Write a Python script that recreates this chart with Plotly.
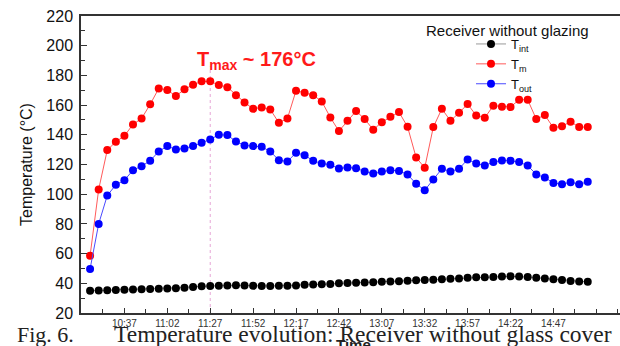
import plotly.graph_objects as go

times = ["10:17", "10:22", "10:27", "10:32", "10:37", "10:42", "10:47", "10:52", "10:57", "11:02",
         "11:07", "11:12", "11:17", "11:22", "11:27", "11:32", "11:37", "11:42", "11:47", "11:52",
         "11:57", "12:02", "12:07", "12:12", "12:17", "12:22", "12:27", "12:32", "12:37", "12:42",
         "12:47", "12:52", "12:57", "13:02", "13:07", "13:12", "13:17", "13:22", "13:27", "13:32",
         "13:37", "13:42", "13:47", "13:52", "13:57", "14:02", "14:07", "14:12", "14:17", "14:22",
         "14:27", "14:32", "14:37", "14:42", "14:47", "14:52", "14:57", "15:02", "15:07"]

t_int = [35.0, 35.2, 35.4, 35.5, 35.6, 35.8, 36.0, 36.2, 36.3, 36.5,
         36.7, 37.0, 37.5, 38.0, 38.2, 38.3, 38.5, 38.7, 38.5, 38.3,
         38.2, 38.2, 38.3, 38.4, 38.6, 39.0, 39.2, 39.4, 39.6, 40.0,
         40.2, 40.3, 40.5, 40.7, 41.0, 41.2, 41.4, 41.7, 42.0, 42.2,
         42.4, 42.7, 43.0, 43.3, 43.7, 44.0, 44.0, 44.2, 44.5, 44.7,
         44.5, 44.3, 43.8, 43.3, 42.8, 42.2, 41.6, 41.2, 41.0]

t_m = [58.6, 103.2, 129.7, 135.3, 139.3, 147.0, 151.0, 160.5, 171.2, 170.1,
       166.1, 170.6, 173.7, 176.0, 176.0, 173.5, 172.1, 166.7, 161.8, 157.5,
       158.4, 157.1, 148.1, 151.0, 169.7, 168.3, 166.7, 162.5, 151.7, 142.5,
       149.4, 156.0, 150.6, 143.4, 148.5, 152.1, 155.3, 145.4, 124.7, 117.8,
       145.2, 157.5, 149.4, 154.8, 160.7, 153.0, 151.5, 159.6, 158.9, 158.7,
       163.6, 163.6, 150.6, 153.3, 144.7, 145.8, 148.8, 145.2, 145.2]

t_out = [49.7, 80.0, 99.1, 106.3, 109.4, 116.2, 118.9, 122.5, 128.8, 132.4,
         130.1, 130.8, 132.4, 134.6, 136.9, 140.0, 139.8, 135.5, 132.8, 132.4,
         131.9, 128.8, 122.9, 122.0, 127.9, 126.3, 122.5, 120.7, 119.8, 117.3,
         118.0, 117.5, 115.3, 113.9, 115.3, 116.2, 115.7, 113.3, 107.0, 102.7,
         109.9, 117.1, 115.3, 117.1, 123.4, 120.7, 119.3, 121.6, 122.7, 122.5,
         121.6, 119.3, 113.3, 111.2, 107.6, 106.7, 108.1, 106.7, 108.3]

tick_labels = ["10:37", "11:02", "11:27", "11:52", "12:17", "12:42", "13:07",
               "13:32", "13:57", "14:22", "14:47"]

t_max_time = "11:27"
t_max_value = 176


def to_min(s):
    h, m = s.split(":")
    return int(h) * 60 + int(m)


x = [to_min(t) for t in times]

W, H = 620, 346
L, R, T, B = 81, 0, 16, 33
PW, PH = W - L - R, H - T - B


def px(xp):
    return (xp - L) / PW


def py(yp):
    return (H - B - yp) / PH


fig = go.Figure()
series = [("T<sub>int</sub>", t_int, "#000000", "#9a9a9a"),
          ("T<sub>m</sub>", t_m, "#ff0000", "#ff5a5a"),
          ("T<sub>out</sub>", t_out, "#0000ff", "#4a4aff")]
for name, vals, mc, lc in series:
    fig.add_trace(go.Scatter(
        x=x, y=vals, name=name, mode="lines+markers",
        line=dict(color=lc, width=1),
        marker=dict(color=mc, size=8, line=dict(width=0)),
    ))

fig.add_shape(type="line", xref="x", yref="y",
              x0=to_min(t_max_time), x1=to_min(t_max_time), y0=20, y1=186,
              line=dict(color="#e6a6d6", width=1, dash="dot"), layer="below")

fig.add_annotation(xref="paper", yref="paper", x=px(195), y=py(61),
                   xanchor="left", yanchor="middle", showarrow=False,
                   text="T<sub>max</sub> ~ %d°C" % t_max_value,
                   font=dict(family="Arial", size=20, color="#ff1a1a", weight="bold"))

fig.add_annotation(xref="paper", yref="paper", x=px(424), y=py(30),
                   xanchor="left", yanchor="middle", showarrow=False,
                   text="Receiver without glazing",
                   font=dict(family="Arial", size=15, color="#111111"))

fig.add_annotation(xref="paper", yref="paper", x=px(354), y=py(344),
                   xanchor="center", yanchor="middle", showarrow=False,
                   text="Time",
                   font=dict(family="Arial", size=15, color="#222222", weight="bold"))

fig.add_annotation(xref="paper", yref="paper", x=px(15), y=py(334),
                   xanchor="left", yanchor="middle", showarrow=False,
                   text="Fig. 6.",
                   font=dict(family="Liberation Serif", size=22, color="#222222"))
fig.add_annotation(xref="paper", yref="paper", x=px(112), y=py(334),
                   xanchor="left", yanchor="middle", showarrow=False,
                   text="Temperature evolution: Receiver without glass cover",
                   font=dict(family="Liberation Serif", size=23.5, color="#222222"))

fig.update_layout(
    width=W, height=H,
    margin=dict(l=L, r=R, t=T, b=B),
    paper_bgcolor="white", plot_bgcolor="white",
    showlegend=True,
    legend=dict(x=px(471), y=py(29), xanchor="left", yanchor="top",
                bgcolor="rgba(0,0,0,0)", borderwidth=0,
                font=dict(family="Arial", size=13, color="#111111"),
                itemwidth=30, tracegroupgap=0),
    font=dict(family="Arial"),
)

fig.update_xaxes(
    range=[611.7, 925.8], showgrid=False, zeroline=False,
    tickmode="array", tickvals=[to_min(t) for t in tick_labels], ticktext=tick_labels,
    ticks="inside", ticklen=5, tickcolor="#333333",
    tickfont=dict(family="Arial", size=10, color="#333333"),
    showline=True, linecolor="#333333", linewidth=1.5, mirror=True,
    minor=dict(tickmode="linear", tick0=to_min(tick_labels[0]), dtick=12.5,
               ticks="inside", ticklen=4, tickcolor="#333333"),
)
fig.update_yaxes(
    range=[20, 220], showgrid=False, zeroline=False,
    tickmode="linear", tick0=20, dtick=20,
    ticks="inside", ticklen=6, tickcolor="#333333",
    tickfont=dict(family="Arial", size=16, color="#111111"),
    ticklabelstandoff=3,
    showline=True, linecolor="#333333", linewidth=1.5,
    minor=dict(tickmode="linear", tick0=20, dtick=10, ticks="inside",
               ticklen=4, tickcolor="#333333"),
    title=dict(text="Temperature (°C)", font=dict(family="Arial", size=16, color="#111111"),
               standoff=10),
)

fig.write_html("out.html", config={"displayModeBar": False},
               post_script="document.body.style.margin='0';")
